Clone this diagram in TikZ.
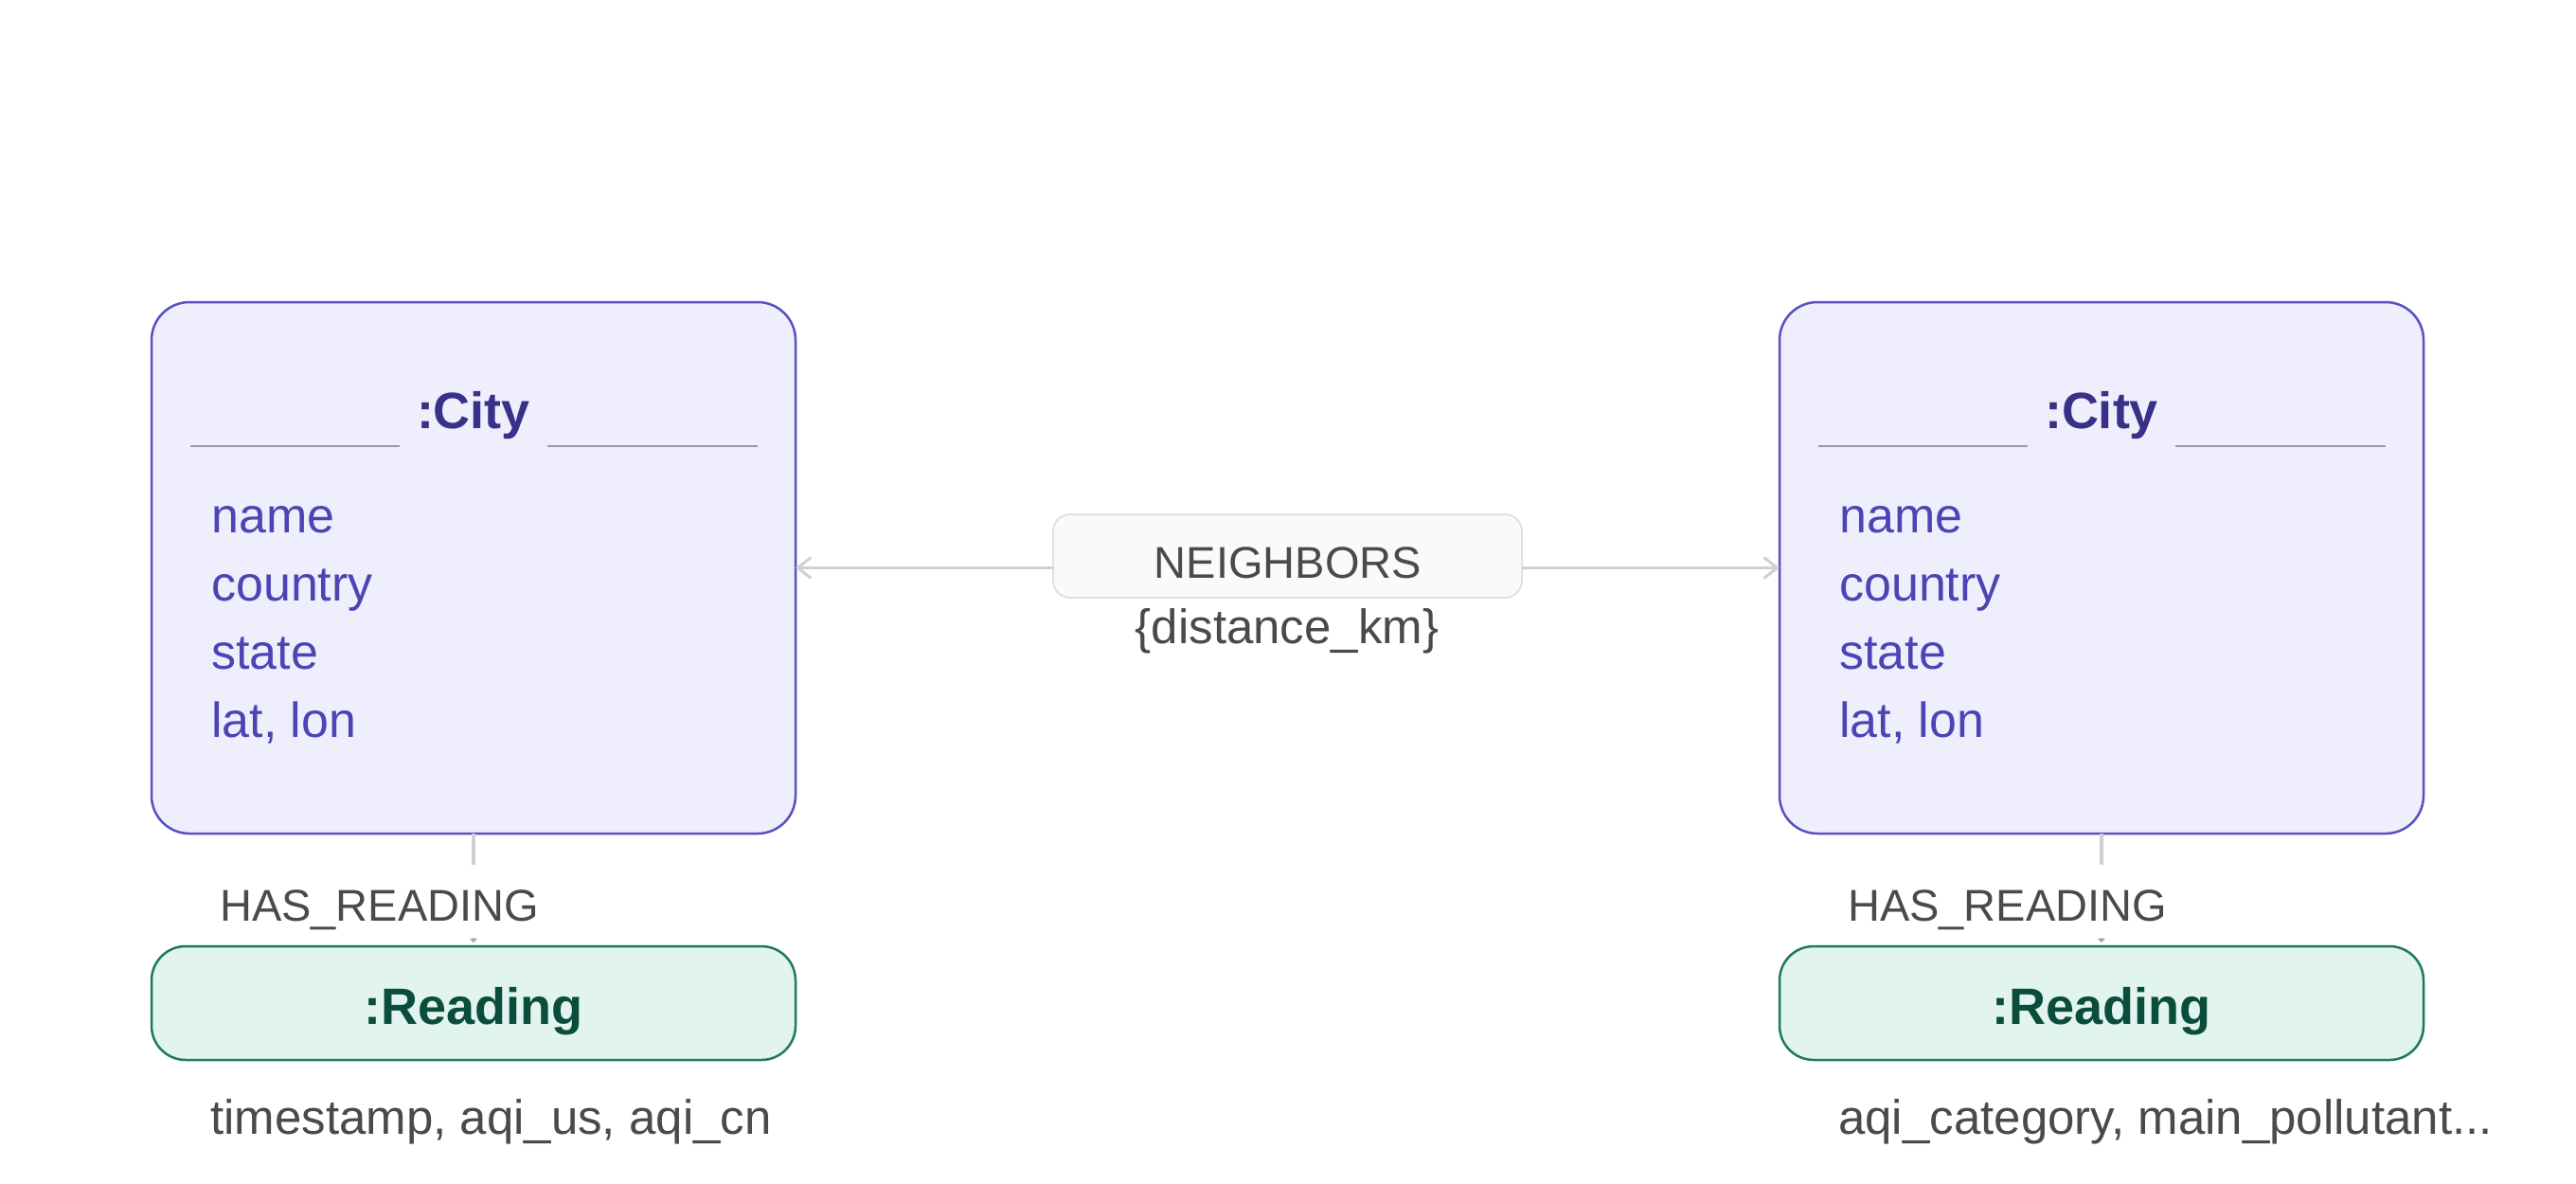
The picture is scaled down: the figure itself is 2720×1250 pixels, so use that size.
\documentclass[tikz,border=0pt]{standalone}
\usepackage{fontspec}
\setmainfont{Liberation Sans}
\usetikzlibrary{arrows.meta,calc}
\definecolor{cityfill}{HTML}{EFEEFC}
\definecolor{cityline}{HTML}{5A50C0}
\definecolor{citytitle}{HTML}{3A3088}
\definecolor{cityattr}{HTML}{4C44B4}
\definecolor{sepline}{HTML}{9A99A4}
\definecolor{readfill}{HTML}{E1F4ED}
\definecolor{readline}{HTML}{1F7A5C}
\definecolor{readtext}{HTML}{0B4D3C}
\definecolor{gtext}{HTML}{4A4A48}
\definecolor{conn}{HTML}{D0D0D0}
\definecolor{conntip}{HTML}{A8A8A8}
\definecolor{nbfill}{HTML}{FAFAF9}
\definecolor{nbline}{HTML}{E2E2E2}
\begin{document}
\begin{tikzpicture}[x=1pt,y=-1pt,
  citybox/.style={draw=cityline, fill=cityfill, line width=2.5pt, rounded corners=40pt,
    minimum width=680pt, minimum height=561pt, inner sep=0pt, outer sep=0pt},
  readbox/.style={draw=readline, fill=readfill, line width=2.5pt, rounded corners=36pt,
    minimum width=680pt, minimum height=120pt, inner sep=0pt, outer sep=0pt},
  nbbox/.style={draw=nbline, fill=nbfill, line width=2pt, rounded corners=18pt,
    minimum width=495pt, minimum height=88pt, inner sep=0pt, outer sep=0pt},
  citytitle/.style={inner sep=0pt, text=citytitle, font=\fontsize{54}{60}\selectfont\bfseries},
  readtitle/.style={inner sep=0pt, text=readtext, font=\fontsize{54}{60}\selectfont\bfseries},
  attr/.style={inner sep=0pt, text=cityattr, font=\fontsize{52}{60}\selectfont},
  gt/.style={inner sep=0pt, text=gtext, font=\fontsize{51}{60}\selectfont},
  caps/.style={inner sep=0pt, text=gtext, font=\fontsize{47}{56}\selectfont},
  rlabel/.style={caps, fill=white, inner xsep=4pt, inner ysep=0pt, text height=59pt, text depth=18pt},
  sepst/.style={draw=sepline, line width=2pt},
  rel/.style={draw=conn, line width=3.5pt, -{Straight Barb[length=14pt,width=22pt,line width=3pt]}},
  hasrel/.style={draw=conn, line width=4pt, -{Triangle[length=4pt,width=8pt,color=conntip]}}
]
\fill[white] (0,0) rectangle (2720,1250);
\useasboundingbox (0,0) rectangle (2720,1250);

% ---- left city ----
\node[citybox] (cityL) at (500,599.5) {};
\node[citytitle, anchor=base] (tL) at (500,452) {:City};
\draw[sepst] (201,471) -- (422,471);
\draw[sepst] (578,471) -- (800,471);
\node[attr, anchor=base west] (aL1) at (223,562) {name};
\node[attr, anchor=base west] (aL2) at (223,634) {country};
\node[attr, anchor=base west] (aL3) at (223,706) {state};
\node[attr, anchor=base west] (aL4) at (223,778) {lat, lon};

% ---- right city ----
\node[citybox] (cityR) at (2219,599.5) {};
\node[citytitle, anchor=base] (tR) at (2219,452) {:City};
\draw[sepst] (1920,471) -- (2141,471);
\draw[sepst] (2297,471) -- (2519,471);
\node[attr, anchor=base west] (aR1) at (1942,562) {name};
\node[attr, anchor=base west] (aR2) at (1942,634) {country};
\node[attr, anchor=base west] (aR3) at (1942,706) {state};
\node[attr, anchor=base west] (aR4) at (1942,778) {lat, lon};

% ---- readings ----
\node[readbox] (readL) at (500,1059) {};
\node[readtitle, anchor=base] (rtL) at (500,1081) {:Reading};
\node[readbox] (readR) at (2219,1059) {};
\node[readtitle, anchor=base] (rtR) at (2219,1081) {:Reading};

% ---- neighbors ----
\node[nbbox] (nb) at (1359.5,587) {};
\node[caps, anchor=base] (nbt) at (1360,610) {NEIGHBORS};
\node[gt, anchor=base] (nbp) at (1359,679) {\{distance\_km\}};
\draw[rel] (nb.west |- cityL.east) -- (cityL.east);
\draw[rel] (nb.east |- cityR.west) -- (cityR.west);

% ---- has_reading ----
\draw[hasrel] (cityL.south) -- ([yshift=4pt]readL.north);
\draw[hasrel] (cityR.south) -- ([yshift=4pt]readR.north);
\node[rlabel, anchor=base west] (hL) at (228,972) {HAS\_READING};
\node[rlabel, anchor=base west] (hR) at (1947,972) {HAS\_READING};

% ---- reading properties ----
\node[gt, anchor=base west] (pL) at (222,1197) {timestamp, aqi\_us, aqi\_cn};
\node[gt, anchor=base west] (pR) at (1941,1197) {aqi\_category, main\_pollutant...};
\end{tikzpicture}
\end{document}
